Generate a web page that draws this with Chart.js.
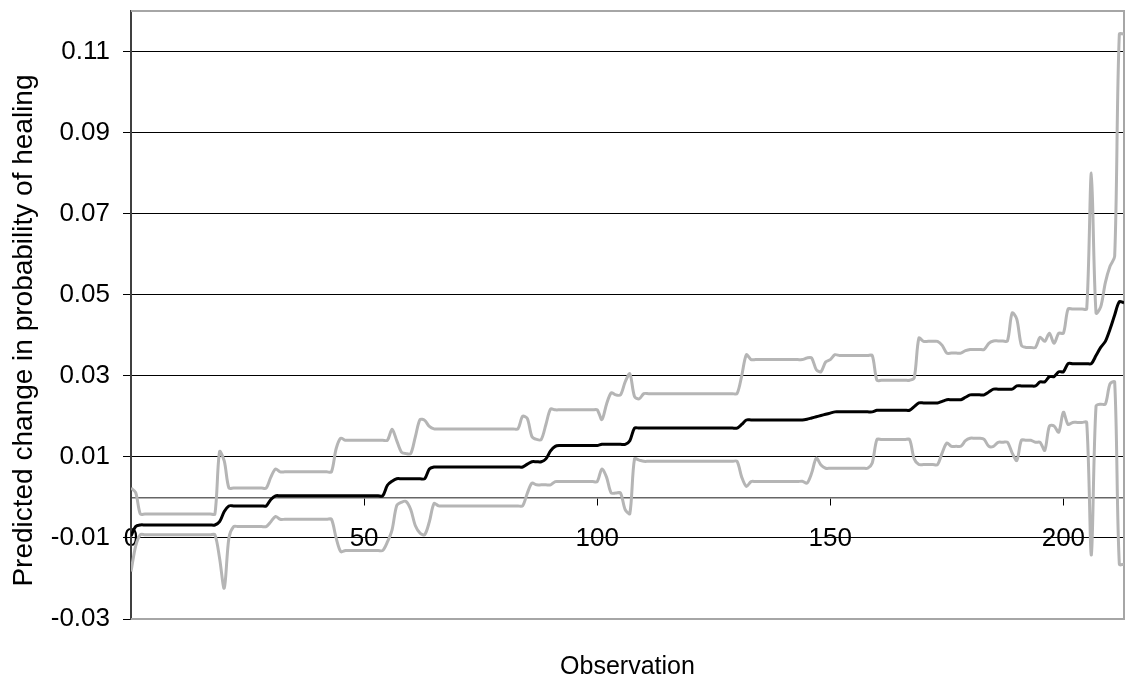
<!DOCTYPE html>
<html>
<head>
<meta charset="utf-8">
<title>Predicted change in probability of healing</title>
<script src="https://cdn.jsdelivr.net/npm/chart.js@4.4.1/dist/chart.umd.min.js"></script>
<style>
  html, body { margin: 0; padding: 0; background: #fff; }
  #wrap { width: 1130px; height: 684px; }
</style>
</head>
<body>
<div id="wrap"><canvas id="healingChart" width="1130" height="684"></canvas></div>
<script>
// tick labels
const yTicks = [-0.03, -0.01, 0.01, 0.03, 0.05, 0.07, 0.09, 0.11];
const xTicks = [0, 50, 100, 150, 200];

// one value per observation (0..213)
const upperBound = [
  0.0023, 0.0012, -0.0041, -0.0041, -0.0041, -0.0041, -0.0041, -0.0041, -0.0041, -0.0041,
  -0.0041, -0.0041, -0.0041, -0.0041, -0.0041, -0.0041, -0.0041, -0.0041, -0.0041, 0.0113,
  0.0090, 0.0023, 0.0023, 0.0023, 0.0023, 0.0023, 0.0023, 0.0023, 0.0023, 0.0023,
  0.0050, 0.0070, 0.0063, 0.0063, 0.0063, 0.0063, 0.0063, 0.0063, 0.0063, 0.0063,
  0.0063, 0.0063, 0.0063, 0.0063, 0.0120, 0.0146, 0.0141, 0.0141, 0.0141, 0.0141,
  0.0141, 0.0141, 0.0141, 0.0141, 0.0141, 0.0141, 0.0168, 0.0140, 0.0112, 0.0108,
  0.0108, 0.0150, 0.0192, 0.0190, 0.0175, 0.0169, 0.0169, 0.0169, 0.0169, 0.0169,
  0.0169, 0.0169, 0.0169, 0.0169, 0.0169, 0.0169, 0.0169, 0.0169, 0.0169, 0.0169,
  0.0169, 0.0169, 0.0169, 0.0169, 0.0200, 0.0195, 0.0150, 0.0143, 0.0143, 0.0180,
  0.0218, 0.0216, 0.0216, 0.0216, 0.0216, 0.0216, 0.0216, 0.0216, 0.0216, 0.0216,
  0.0216, 0.0192, 0.0230, 0.0258, 0.0253, 0.0253, 0.0285, 0.0305, 0.0249, 0.0243,
  0.0256, 0.0256, 0.0256, 0.0256, 0.0256, 0.0256, 0.0256, 0.0256, 0.0256, 0.0256,
  0.0256, 0.0256, 0.0256, 0.0256, 0.0256, 0.0256, 0.0256, 0.0256, 0.0256, 0.0256,
  0.0256, 0.0300, 0.0352, 0.0340, 0.0340, 0.0340, 0.0340, 0.0340, 0.0340, 0.0340,
  0.0340, 0.0340, 0.0340, 0.0340, 0.0340, 0.0344, 0.0344, 0.0315, 0.0310, 0.0334,
  0.0340, 0.0352, 0.0350, 0.0350, 0.0350, 0.0350, 0.0350, 0.0350, 0.0350, 0.0350,
  0.0289, 0.0289, 0.0289, 0.0289, 0.0289, 0.0289, 0.0289, 0.0289, 0.0295, 0.0393,
  0.0385, 0.0385, 0.0385, 0.0385, 0.0375, 0.0356, 0.0356, 0.0356, 0.0356, 0.0362,
  0.0365, 0.0365, 0.0365, 0.0365, 0.0380, 0.0386, 0.0386, 0.0386, 0.0386, 0.0455,
  0.0440, 0.0375, 0.0370, 0.0370, 0.0370, 0.0395, 0.0385, 0.0405, 0.0380, 0.0405,
  0.0405, 0.0465, 0.0465, 0.0465, 0.0465, 0.0465, 0.0800, 0.0455, 0.0470, 0.0530,
  0.0570, 0.0595, 0.1143, 0.1143
];

const estimate = [
  -0.0095, -0.0072, -0.0068, -0.0068, -0.0068, -0.0068, -0.0068, -0.0068, -0.0068, -0.0068,
  -0.0068, -0.0068, -0.0068, -0.0068, -0.0068, -0.0068, -0.0068, -0.0068, -0.0068, -0.0060,
  -0.0035, -0.0021, -0.0021, -0.0021, -0.0021, -0.0021, -0.0021, -0.0021, -0.0021, -0.0021,
  -0.0005, 0.0004, 0.0004, 0.0004, 0.0004, 0.0004, 0.0004, 0.0004, 0.0004, 0.0004,
  0.0004, 0.0004, 0.0004, 0.0004, 0.0004, 0.0004, 0.0004, 0.0004, 0.0004, 0.0004,
  0.0004, 0.0004, 0.0004, 0.0004, 0.0004, 0.0030, 0.0040, 0.0046, 0.0046, 0.0046,
  0.0046, 0.0046, 0.0046, 0.0046, 0.0070, 0.0075, 0.0075, 0.0075, 0.0075, 0.0075,
  0.0075, 0.0075, 0.0075, 0.0075, 0.0075, 0.0075, 0.0075, 0.0075, 0.0075, 0.0075,
  0.0075, 0.0075, 0.0075, 0.0075, 0.0075, 0.0082, 0.0088, 0.0088, 0.0088, 0.0095,
  0.0115, 0.0126, 0.0128, 0.0128, 0.0128, 0.0128, 0.0128, 0.0128, 0.0128, 0.0128,
  0.0128, 0.0131, 0.0131, 0.0131, 0.0131, 0.0131, 0.0131, 0.0140, 0.0171, 0.0171,
  0.0171, 0.0171, 0.0171, 0.0171, 0.0171, 0.0171, 0.0171, 0.0171, 0.0171, 0.0171,
  0.0171, 0.0171, 0.0171, 0.0171, 0.0171, 0.0171, 0.0171, 0.0171, 0.0171, 0.0171,
  0.0171, 0.0180, 0.0191, 0.0191, 0.0191, 0.0191, 0.0191, 0.0191, 0.0191, 0.0191,
  0.0191, 0.0191, 0.0191, 0.0191, 0.0191, 0.0193, 0.0196, 0.0199, 0.0202, 0.0205,
  0.0208, 0.0211, 0.0211, 0.0211, 0.0211, 0.0211, 0.0211, 0.0211, 0.0211, 0.0211,
  0.0215, 0.0215, 0.0215, 0.0215, 0.0215, 0.0215, 0.0215, 0.0215, 0.0224, 0.0233,
  0.0233, 0.0233, 0.0233, 0.0233, 0.0237, 0.0241, 0.0241, 0.0241, 0.0241, 0.0247,
  0.0253, 0.0253, 0.0253, 0.0253, 0.0260, 0.0267, 0.0267, 0.0267, 0.0267, 0.0267,
  0.0275, 0.0275, 0.0275, 0.0275, 0.0275, 0.0285, 0.0285, 0.0298, 0.0298, 0.0310,
  0.0310, 0.0330, 0.0330, 0.0330, 0.0330, 0.0330, 0.0330, 0.0350, 0.0370, 0.0385,
  0.0415, 0.0450, 0.0483, 0.0480
];

const lowerBound = [
  -0.0183, -0.0120, -0.0092, -0.0092, -0.0092, -0.0092, -0.0092, -0.0092, -0.0092, -0.0092,
  -0.0092, -0.0092, -0.0092, -0.0092, -0.0092, -0.0092, -0.0092, -0.0092, -0.0092, -0.0150,
  -0.0224, -0.0100, -0.0072, -0.0072, -0.0072, -0.0072, -0.0072, -0.0072, -0.0072, -0.0072,
  -0.0060, -0.0047, -0.0054, -0.0054, -0.0054, -0.0054, -0.0054, -0.0054, -0.0054, -0.0054,
  -0.0054, -0.0054, -0.0054, -0.0054, -0.0100, -0.0134, -0.0131, -0.0131, -0.0131, -0.0131,
  -0.0131, -0.0131, -0.0131, -0.0131, -0.0131, -0.0110, -0.0080, -0.0020, -0.0012, -0.0010,
  -0.0030, -0.0070, -0.0088, -0.0092, -0.0060, -0.0015, -0.0021, -0.0021, -0.0021, -0.0021,
  -0.0021, -0.0021, -0.0021, -0.0021, -0.0021, -0.0021, -0.0021, -0.0021, -0.0021, -0.0021,
  -0.0021, -0.0021, -0.0021, -0.0021, -0.0021, 0.0010, 0.0035, 0.0031, 0.0031, 0.0031,
  0.0031, 0.0039, 0.0039, 0.0039, 0.0039, 0.0039, 0.0039, 0.0039, 0.0039, 0.0039,
  0.0039, 0.0070, 0.0050, 0.0011, 0.0011, 0.0011, -0.0030, -0.0040, 0.0095, 0.0092,
  0.0089, 0.0089, 0.0089, 0.0089, 0.0089, 0.0089, 0.0089, 0.0089, 0.0089, 0.0089,
  0.0089, 0.0089, 0.0089, 0.0089, 0.0089, 0.0089, 0.0089, 0.0089, 0.0089, 0.0089,
  0.0089, 0.0050, 0.0027, 0.0039, 0.0039, 0.0039, 0.0039, 0.0039, 0.0039, 0.0039,
  0.0039, 0.0039, 0.0039, 0.0039, 0.0040, 0.0035, 0.0060, 0.0097, 0.0080, 0.0072,
  0.0072, 0.0072, 0.0072, 0.0072, 0.0072, 0.0072, 0.0072, 0.0072, 0.0072, 0.0085,
  0.0143, 0.0143, 0.0143, 0.0143, 0.0143, 0.0143, 0.0143, 0.0143, 0.0095, 0.0081,
  0.0081, 0.0081, 0.0081, 0.0081, 0.0110, 0.0134, 0.0126, 0.0126, 0.0126, 0.0140,
  0.0146, 0.0146, 0.0146, 0.0143, 0.0126, 0.0126, 0.0136, 0.0136, 0.0136, 0.0110,
  0.0091, 0.0141, 0.0141, 0.0141, 0.0136, 0.0136, 0.0116, 0.0176, 0.0176, 0.0161,
  0.0210, 0.0180, 0.0185, 0.0185, 0.0185, 0.0185, -0.0142, 0.0225, 0.0230, 0.0230,
  0.0280, 0.0285, -0.0165, -0.0165
];

const FONT_FAMILY = "'Liberation Sans', Arial, sans-serif";
const tickFont = { family: FONT_FAMILY, size: 26 };
const xTitleFont = { family: FONT_FAMILY, size: 25 };
const yTitleFont = { family: FONT_FAMILY, size: 28 };

const PLOT_LEFT = 131;

function toPoints(values) {
  return values.map((y, i) => ({ x: i, y }));
}

// grey frame on the top, right and bottom of the plot area
const plotFrame = {
  id: "plotFrame",
  beforeDatasetsDraw(chart) {
    const { ctx, chartArea } = chart;
    ctx.save();
    ctx.strokeStyle = "#a6a6a6";
    ctx.lineWidth = 2;
    ctx.beginPath();
    ctx.moveTo(chartArea.left, chartArea.top);
    ctx.lineTo(chartArea.right, chartArea.top);
    ctx.lineTo(chartArea.right, chartArea.bottom);
    ctx.lineTo(chartArea.left, chartArea.bottom);
    ctx.stroke();
    ctx.restore();
  },
};

const lineStyle = {
  pointRadius: 0,
  pointHoverRadius: 0,
  borderWidth: 3,
  tension: 0.3,
  fill: false,
};

new Chart(document.getElementById("healingChart"), {
  type: "line",
  data: {
    datasets: [
      { label: "Upper bound", data: toPoints(upperBound), borderColor: "#b5b5b5", ...lineStyle },
      { label: "Lower bound", data: toPoints(lowerBound), borderColor: "#b5b5b5", ...lineStyle },
      { label: "Predicted change", data: toPoints(estimate), borderColor: "#000000", ...lineStyle },
    ],
  },
  options: {
    responsive: false,
    animation: false,
    layout: { padding: { left: 0, top: 11, right: 6, bottom: 0 } },
    plugins: {
      legend: { display: false },
      tooltip: { enabled: false },
    },
    scales: {
      x: {
        type: "linear",
        min: 0,
        max: 213,
        position: { y: 0 },
        afterBuildTicks: (axis) => {
          axis.ticks = xTicks.map((v) => ({ value: v }));
        },
        ticks: { color: "#000", font: tickFont, padding: 19, maxRotation: 0, autoSkip: false },
        grid: { drawOnChartArea: false, drawTicks: true, tickLength: 7, tickColor: "#000", color: "#000" },
        border: { display: true, color: "#666", width: 1.5 },
      },
      xTitle: {
        type: "linear",
        min: 0,
        max: 213,
        position: "bottom",
        ticks: { display: false },
        grid: { display: false, drawTicks: false },
        border: { display: false },
        title: {
          display: true,
          text: "Observation",
          color: "#000",
          font: xTitleFont,
          padding: { top: 33, bottom: 2 },
        },
      },
      y: {
        type: "linear",
        min: -0.03,
        max: 0.12,
        position: "left",
        afterBuildTicks: (axis) => {
          axis.ticks = yTicks.map((v) => ({ value: v }));
        },
        afterFit: (axis) => {
          axis.width = PLOT_LEFT;
          axis.paddingTop = 0;
          axis.paddingBottom = 0;
        },
        ticks: {
          color: "#000",
          font: tickFont,
          padding: 13,
          callback: (value) => Number(value).toFixed(2),
        },
        grid: {
          color: (ctx) => (ctx.tick && ctx.tick.value === -0.03 ? "rgba(0,0,0,0)" : "#000"),
          lineWidth: 1,
          tickLength: 8,
          tickColor: "#000",
        },
        border: { color: "#404040", width: 2 },
        title: {
          display: true,
          // trailing spaces push the centred title a little lower, as in the original
          text: "Predicted change in probability of healing    ",
          color: "#000",
          font: yTitleFont,
          padding: { top: 7, bottom: 0 },
        },
      },
    },
  },
  plugins: [plotFrame],
});
</script>
</body>
</html>
